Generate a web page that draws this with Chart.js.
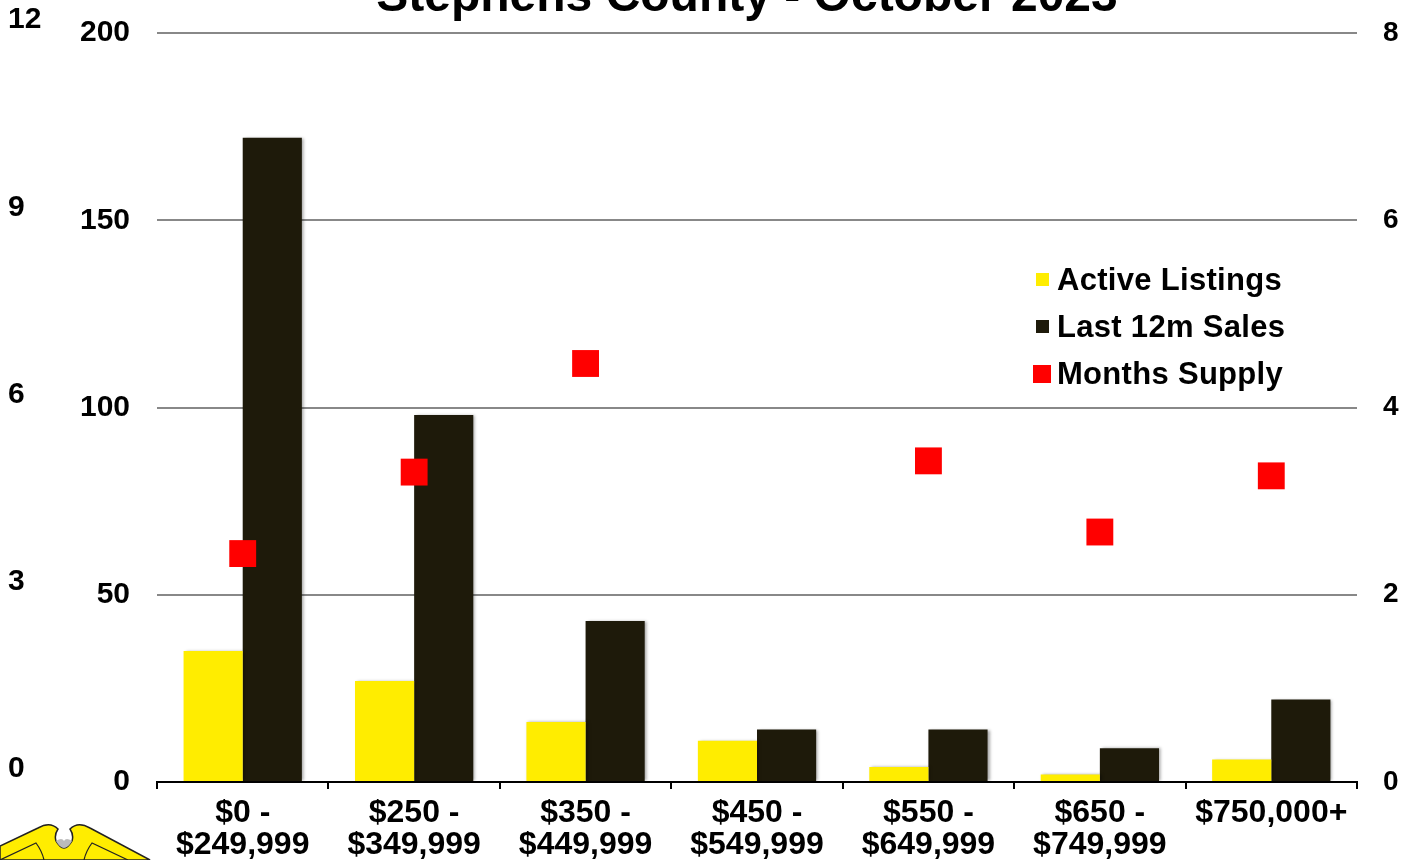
<!DOCTYPE html>
<html>
<head>
<meta charset="utf-8">
<script src="https://cdn.jsdelivr.net/npm/chart.js@4.4.0/dist/chart.umd.min.js"></script>
<style>
html,body{margin:0;padding:0;background:#fff;overflow:hidden}
#wrap{position:relative;width:1422px;height:860px;overflow:hidden}
#c{position:absolute;left:0;top:0}
.leg{position:absolute;left:1030px;height:47px;display:flex;align-items:center;font:bold 31px "Liberation Sans",Arial,sans-serif;letter-spacing:0.3px;color:#000;white-space:nowrap}
.leg .bw{width:24px;display:flex;justify-content:center;align-items:center;margin-right:3px}
#logo{position:absolute;left:0;top:815px}
</style>
</head>
<body>
<div id="wrap">
<canvas id="c" width="1422" height="860"></canvas>
<div id="legend"></div>
<svg id="logo" width="170" height="45" viewBox="0 0 170 45">
  <path d="M0,31 L38,13 Q50,6 58,14 Q54,20 56,26 Q60,33 64,33 Q68,33 72,26 Q74,20 70,14 Q78,6 90,13 L150,45 L0,45 Z" fill="#FFED00" stroke="#222" stroke-width="1.5"/>
  <path d="M56,26 Q60,33 64,33 Q68,33 72,26 Q66,22 64,26 Q62,22 56,26 Z" fill="#bbb"/>
  <path d="M0,45 L36,28 Q42,36 44,45" fill="none" stroke="#222" stroke-width="1.2"/>
  <path d="M84,45 Q86,36 92,28 L128,45" fill="none" stroke="#222" stroke-width="1.2"/>
</svg>
</div>
<script>
// ---- data ----
const categories = [
  ['$0 -', '$249,999'],
  ['$250 -', '$349,999'],
  ['$350 -', '$449,999'],
  ['$450 -', '$549,999'],
  ['$550 -', '$649,999'],
  ['$650 -', '$749,999'],
  '$750,000+'
];
const activeListings = [35, 27, 16, 11, 4, 2, 6];
const lastTwelveMonthSales = [172, 98, 43, 14, 14, 9, 22];
const monthsSupply = [2.44, 3.31, 4.47, 9.43, 3.43, 2.67, 3.27];
const leftTicks = [0, 50, 100, 150, 200];
const farLeftTicks = [0, 3, 6, 9, 12];
const rightTicks = [0, 2, 4, 6, 8];
const seriesNames = ['Active Listings', 'Last 12m Sales', 'Months Supply'];
const titleText = 'Stephens County - October 2023';

const colors = {yellow: '#FFED00', black: '#1E1A0A', red: '#FF0000'};
const FONT = '"Liberation Sans", Arial, sans-serif';

// ---- legend (html) ----
const legendDefs = [
  {name: seriesNames[0], color: colors.yellow, size: 13},
  {name: seriesNames[1], color: colors.black, size: 13},
  {name: seriesNames[2], color: colors.red, size: 18}
];
const legendEl = document.getElementById('legend');
legendDefs.forEach((d, i) => {
  const row = document.createElement('div');
  row.className = 'leg';
  row.style.top = (256 + 47 * i) + 'px';
  row.innerHTML = '<span class="bw"><span style="display:inline-block;width:' + d.size + 'px;height:' + d.size +
    'px;background:' + d.color + '"></span></span><span>' + d.name + '</span>';
  legendEl.appendChild(row);
});

const titlePlugin = {
  id: 'topTitle',
  afterDraw(chart) {
    const ctx = chart.ctx;
    ctx.save();
    ctx.font = 'bold 48px ' + FONT;
    ctx.fillStyle = '#000';
    ctx.textAlign = 'center';
    ctx.textBaseline = 'alphabetic';
    ctx.fillText(titleText, 747, 11);
    ctx.restore();
  }
};

const shadowPlugin = {
  id: 'barShadow',
  beforeDatasetDraw(chart, args) {
    if (args.meta.type !== 'bar') return;
    const ctx = chart.ctx;
    ctx.save();
    ctx.shadowColor = 'rgba(0,0,0,0.35)';
    ctx.shadowBlur = 3;
    ctx.shadowOffsetX = 2;
    ctx.shadowOffsetY = 0;
  },
  afterDatasetDraw(chart, args) {
    if (args.meta.type !== 'bar') return;
    chart.ctx.restore();
  }
};

const leftFont = {family: FONT, size: 30, weight: 'bold'};
const rightFont = {family: FONT, size: 28, weight: 'bold'};
const noPad = s => { s.paddingTop = 0; s.paddingBottom = 0; };

new Chart(document.getElementById('c'), {
  data: {
    labels: categories,
    datasets: [
      {
        type: 'line', label: seriesNames[2], data: monthsSupply, yAxisID: 'y2', order: 0,
        showLine: false, pointStyle: 'rect', pointRadius: 19, pointBackgroundColor: colors.red,
        pointBorderWidth: 0, pointBorderColor: colors.red
      },
      {
        type: 'bar', label: seriesNames[0], data: activeListings, yAxisID: 'y', order: 1,
        backgroundColor: colors.yellow, borderWidth: 0, categoryPercentage: 0.69, barPercentage: 1.0
      },
      {
        type: 'bar', label: seriesNames[1], data: lastTwelveMonthSales, yAxisID: 'y', order: 2,
        backgroundColor: colors.black, borderWidth: 0, categoryPercentage: 0.69, barPercentage: 1.0
      }
    ]
  },
  options: {
    responsive: false,
    devicePixelRatio: 1,
    animation: false,
    events: [],
    layout: {padding: {left: 8, right: 0, top: 33, bottom: 0}},
    plugins: {legend: {display: false}, tooltip: {enabled: false}, title: {display: false}},
    scales: {
      x: {
        type: 'category',
        offset: true,
        grid: {display: true, drawOnChartArea: false, drawTicks: true, tickLength: 7, color: '#000', lineWidth: 2, offset: true},
        border: {display: true, color: '#000', width: 2},
        ticks: {font: {family: FONT, size: 32, weight: 'bold', lineHeight: 1.0}, color: '#000', padding: 8, maxRotation: 0, autoSkip: false},
        afterFit: s => { s.height = 78; }
      },
      y: {
        position: 'left', weight: 0, min: 0, max: 200,
        grid: {color: c => (c.tick && c.tick.value === 0) ? 'rgba(0,0,0,0)' : '#888888', lineWidth: 2, drawTicks: false},
        border: {display: false},
        ticks: {font: leftFont, color: '#000', padding: 27},
        afterBuildTicks: s => { s.ticks = leftTicks.map(v => ({value: v})); },
        afterFit: s => { s.width = 92; noPad(s); }
      },
      yFar: {
        position: 'left', weight: 1, min: 0, max: 12,
        grid: {display: false, drawTicks: false},
        border: {display: false},
        ticks: {font: leftFont, color: '#000', crossAlign: 'far', labelOffset: -13, padding: 0},
        afterBuildTicks: s => { s.ticks = farLeftTicks.map(v => ({value: v})); },
        afterFit: s => { s.width = 57; noPad(s); }
      },
      y2: {
        position: 'right', min: 0, max: 8,
        grid: {display: false, drawTicks: false},
        border: {display: false},
        ticks: {font: rightFont, color: '#000', padding: 26},
        afterBuildTicks: s => { s.ticks = rightTicks.map(v => ({value: v})); },
        afterFit: s => { s.width = 65; noPad(s); }
      }
    }
  },
  plugins: [titlePlugin, shadowPlugin]
});
</script>
</body>
</html>
